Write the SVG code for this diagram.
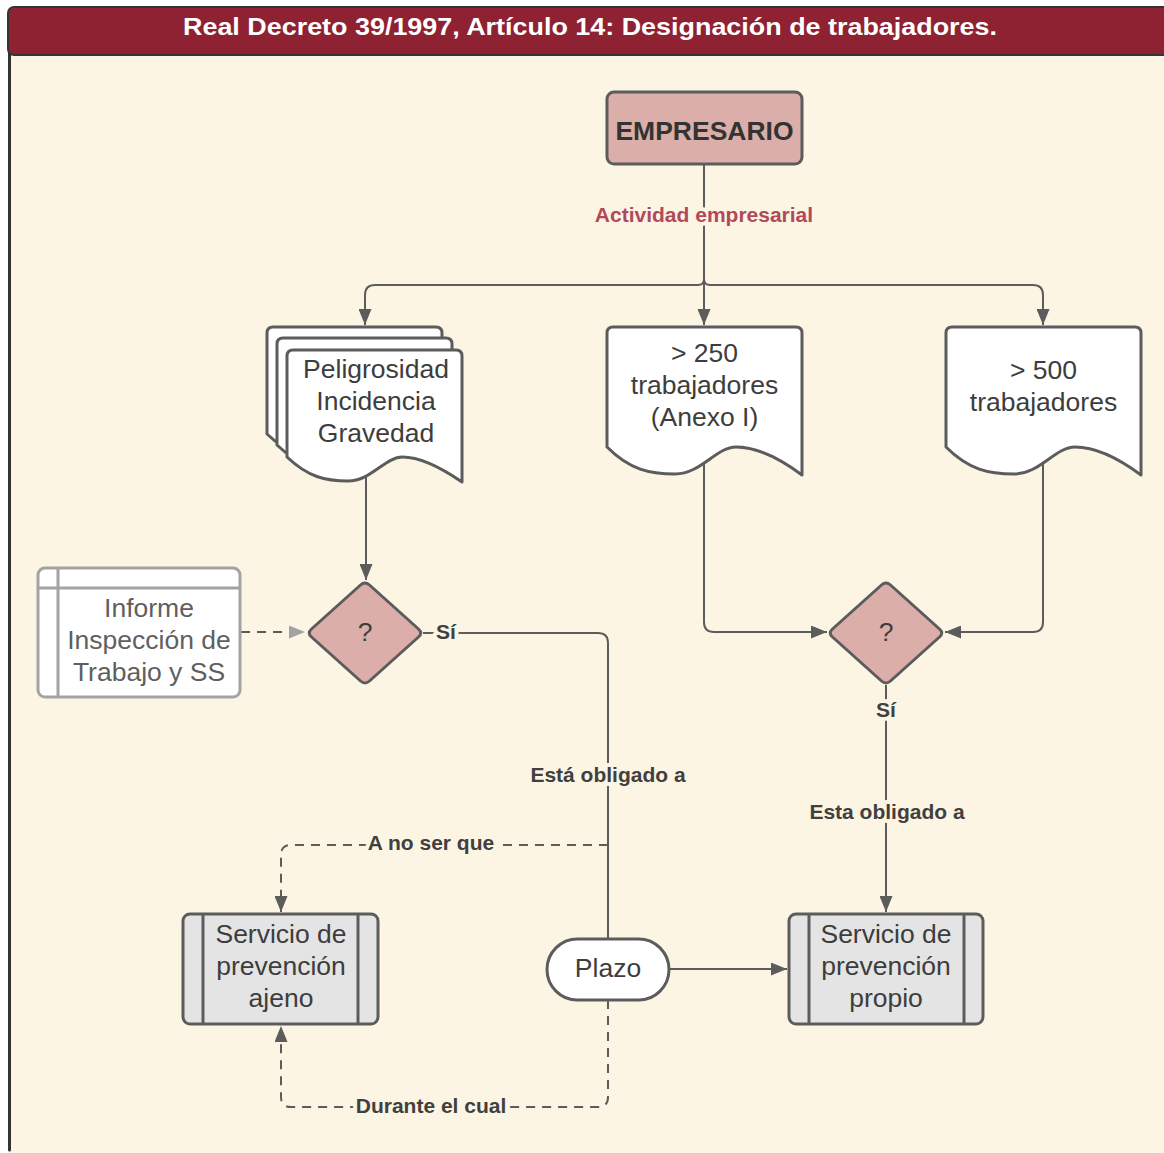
<svg xmlns="http://www.w3.org/2000/svg" width="1164" height="1153" viewBox="0 0 1164 1153">
  <defs>
    <marker id="arrow" viewBox="0 0 16 13" refX="16" refY="6.5" markerWidth="16" markerHeight="13" markerUnits="userSpaceOnUse" orient="auto">
      <path d="M0,0 L16,6.5 L0,13 Z" fill="#5c5c5c"/>
    </marker>
    <marker id="arrow-light" viewBox="0 0 16 13" refX="16" refY="6.5" markerWidth="16" markerHeight="13" markerUnits="userSpaceOnUse" orient="auto">
      <path d="M0,0 L16,6.5 L0,13 Z" fill="#a3a3a3"/>
    </marker>
    <style>
      .node-text { font-family: "Liberation Sans", Arial, sans-serif; font-size: 26.5px; fill: #3d3d3d; text-anchor: middle; }
      .node-text-light { font-family: "Liberation Sans", Arial, sans-serif; font-size: 26.5px; fill: #5f5f5f; text-anchor: middle; }
      .doc { fill: #ffffff; stroke: #5c5c5c; stroke-width: 3; stroke-linejoin: round; }
      .decision { fill: #dbaea9; stroke: #5c5c5c; stroke-width: 3; }
      .process { fill: #e4e4e4; stroke: #5c5c5c; stroke-width: 3; }
      .conn { fill: none; stroke: #5c5c5c; stroke-width: 2; }
      .dashed { stroke-dasharray: 9 7; }
      .label { font-family: "Liberation Sans", Arial, sans-serif; font-size: 21px; font-weight: bold; fill: #404040; text-anchor: middle; stroke: #fdf5e4; stroke-width: 8; paint-order: stroke; stroke-linejoin: round; }
    </style>
  </defs>

  <!-- page frame and title bar -->
  <rect x="0" y="0" width="1164" height="1153" fill="#ffffff"/>
  <rect x="9" y="54" width="1160" height="1102" fill="#fdf5e4"/>
  <line x1="9.5" y1="40" x2="9.5" y2="1150" stroke="#333333" stroke-width="3" stroke-linecap="round"/>
  <rect x="8" y="7" width="1170" height="48" rx="6" fill="#8f2232" stroke="#343434" stroke-width="2"/>
  <text x="590" y="35" font-family="Liberation Sans, Arial, sans-serif" font-size="24" font-weight="bold" fill="#ffffff" text-anchor="middle" textLength="814" lengthAdjust="spacingAndGlyphs">Real Decreto 39/1997, Artículo 14: Designación de trabajadores.</text>

  <!-- connectors -->
  <g id="connectors">
    <path class="conn" d="M704,164 V325" marker-end="url(#arrow)"/>
    <path class="conn" d="M698,285 H375 Q365,285 365,295 V325" marker-end="url(#arrow)"/>
    <path class="conn" d="M710,285 H1033 Q1043,285 1043,295 V325" marker-end="url(#arrow)"/>
    <path class="conn" d="M698,285 Q704,285 704,279 Q704,285 710,285"/>
    <path class="conn" d="M366,470 V580" marker-end="url(#arrow)"/>
    <path class="conn dashed" d="M241,632 H305" stroke="#a3a3a3" marker-end="url(#arrow-light)"/>
    <path class="conn" d="M423,633 H598 Q608,633 608,643 V940"/>
    <path class="conn dashed" d="M608,845 H291 Q281,845 281,855 V912" marker-end="url(#arrow)"/>
    <path class="conn" d="M669,969 H787" marker-end="url(#arrow)"/>
    <path class="conn dashed" d="M608,1000 V1097 Q608,1107 598,1107 H291 Q281,1107 281,1097 V1026" marker-end="url(#arrow)"/>
    <path class="conn" d="M704,455 V622 Q704,632 714,632 H827" marker-end="url(#arrow)"/>
    <path class="conn" d="M1043,455 V622 Q1043,632 1033,632 H945" marker-end="url(#arrow)"/>
    <path class="conn" d="M886,685 V912" marker-end="url(#arrow)"/>

    <text class="label" x="704" y="221.5" style="fill:#b04a5a">Actividad empresarial</text>
    <text class="label" x="446" y="639">Sí</text>
    <text class="label" x="608" y="782">Está obligado a</text>
    <text class="label" x="431" y="850">A no ser que</text>
    <text class="label" x="431" y="1113">Durante el cual</text>
    <text class="label" x="886" y="717">Sí</text>
    <text class="label" x="887" y="819">Esta obligado a</text>
  </g>

  <!-- nodes -->
  <g id="empresario">
    <rect x="607" y="92" width="195" height="72" rx="7" fill="#dbaea9" stroke="#5c5c5c" stroke-width="3"/>
    <text class="node-text" x="704.5" y="139.5" font-weight="bold" style="fill:#333333">EMPRESARIO</text>
  </g>

  <g id="peligrosidad">
    <path class="doc" d="M267,434 V333 Q267,327 273,327 H436 Q442,327 442,333 V459 C426,448 403.5,434 382.5,434 C365,434 351,458 328,458 C305.5,458 288,454 267,434 Z"/>
    <path class="doc" d="M277,445 V344 Q277,338 283,338 H446 Q452,338 452,344 V470 C436,459 413.5,445 392.5,445 C375,445 361,469 338,469 C315.5,469 298,465 277,445 Z"/>
    <path class="doc" d="M287,457 V356 Q287,350 293,350 H456 Q462,350 462,356 V482 C446,471 423.5,457 402.5,457 C385,457 371,481 348,481 C325.5,481 308,477 287,457 Z"/>
    <text class="node-text" x="376" y="378">Peligrosidad</text>
    <text class="node-text" x="376" y="410">Incidencia</text>
    <text class="node-text" x="376" y="442">Gravedad</text>
  </g>

  <g id="mas-250">
    <path class="doc" d="M607,447 V333 Q607,327 613,327 H796 Q802,327 802,333 V475 C784.5,462 759,447 736,447 C716,447 701,474 675,474 C650,474 630,470 607,447 Z"/>
    <text class="node-text" x="704.5" y="362">&gt; 250</text>
    <text class="node-text" x="704.5" y="394">trabajadores</text>
    <text class="node-text" x="704.5" y="426">(Anexo I)</text>
  </g>

  <g id="mas-500">
    <path class="doc" d="M946,447 V333 Q946,327 952,327 H1135 Q1141,327 1141,333 V475 C1123.5,462 1098,447 1075,447 C1055,447 1040,474 1014,474 C989,474 969,470 946,447 Z"/>
    <text class="node-text" x="1043.5" y="379">&gt; 500</text>
    <text class="node-text" x="1043.5" y="411">trabajadores</text>
  </g>

  <g id="informe">
    <rect x="38" y="568" width="202" height="129" rx="7" fill="#ffffff" stroke="#a3a3a3" stroke-width="3"/>
    <line x1="58" y1="568" x2="58" y2="697" stroke="#a3a3a3" stroke-width="3"/>
    <line x1="38" y1="588" x2="240" y2="588" stroke="#a3a3a3" stroke-width="3"/>
    <text class="node-text-light" x="149" y="617">Informe</text>
    <text class="node-text-light" x="149" y="649">Inspección de</text>
    <text class="node-text-light" x="149" y="681">Trabajo y SS</text>
  </g>

  <g id="decision-1">
    <path class="decision" d="M369.5,585 L418.5,629 Q423,633 418.5,637 L369.5,681 Q365,685 360.5,681 L311.5,637 Q307,633 311.5,629 L360.5,585 Q365,581 369.5,585 Z"/>
    <text class="node-text" x="365" y="641" font-size="24">?</text>
  </g>

  <g id="decision-2">
    <path class="decision" d="M890.5,585 L939.5,629 Q944,633 939.5,637 L890.5,681 Q886,685 881.5,681 L832.5,637 Q828,633 832.5,629 L881.5,585 Q886,581 890.5,585 Z"/>
    <text class="node-text" x="886" y="641" font-size="24">?</text>
  </g>

  <g id="servicio-ajeno">
    <rect class="process" x="183" y="914" width="195" height="110" rx="7"/>
    <line x1="203" y1="914" x2="203" y2="1024" stroke="#5c5c5c" stroke-width="3"/>
    <line x1="358" y1="914" x2="358" y2="1024" stroke="#5c5c5c" stroke-width="3"/>
    <text class="node-text" x="281" y="943">Servicio de</text>
    <text class="node-text" x="281" y="975">prevención</text>
    <text class="node-text" x="281" y="1007">ajeno</text>
  </g>

  <g id="plazo">
    <rect x="547" y="939" width="122" height="61" rx="30.5" fill="#ffffff" stroke="#5c5c5c" stroke-width="3"/>
    <text class="node-text" x="608" y="977">Plazo</text>
  </g>

  <g id="servicio-propio">
    <rect class="process" x="789" y="914" width="194" height="110" rx="7"/>
    <line x1="809" y1="914" x2="809" y2="1024" stroke="#5c5c5c" stroke-width="3"/>
    <line x1="964" y1="914" x2="964" y2="1024" stroke="#5c5c5c" stroke-width="3"/>
    <text class="node-text" x="886" y="943">Servicio de</text>
    <text class="node-text" x="886" y="975">prevención</text>
    <text class="node-text" x="886" y="1007">propio</text>
  </g>
</svg>
